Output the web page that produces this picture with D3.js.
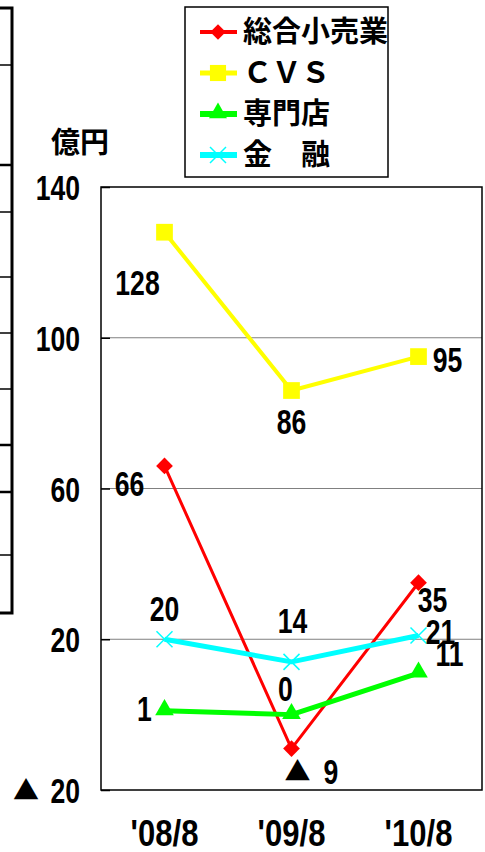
<!DOCTYPE html>
<html>
<head>
<meta charset="utf-8">
<script src="https://cdn.jsdelivr.net/npm/d3@7"></script>
<style>
body { margin: 0; background: #fff; }
svg { display: block; }
</style>
</head>
<body>
<svg width="485" height="852"></svg>
<script>
// data
var months = ["'08/8", "'09/8", "'10/8"];
var seriesNames = ["総合小売業", "ＣＶＳ", "専門店", "金　融"];
var retail = [66, -9, 35];
var cvs = [128, 86, 95];
var specialty = [1, 0, 11];
var finance = [20, 14, 21];
var yTicks = [140, 100, 60, 20, -20];

// label placement (dx, dy from point)
var labelOffsets = [
    [[-35, 17], [20, 23], [14, 17]],
    [[-27, 50], [0, 31], [29, 3]],
    [[-20, -2], [-6, -26], [31, -20]],
    [[0, -31], [1, -41], [22, -4]]
];

var colors = ["#ff0000", "#ffff00", "#00ff00", "#00ffff"];
var widths = [3, 4, 5, 5];
var values = [retail, cvs, specialty, finance];

var svg = d3.select("svg");
var numFont = "'Liberation Sans', Arial, sans-serif";
var jpFont = "'Noto Sans CJK JP', sans-serif";
var sx = 0.76; // narrow digits

var plot = {left: 101, right: 482, top: 187, bottom: 790};

var x = d3.scaleBand().domain(months).range([plot.left, plot.right]).padding(0);
var y = d3.scaleLinear().domain([-20, 140]).range([plot.bottom, plot.top]);
function cx(i) { return x(months[i]) + x.bandwidth() / 2; }

// cut off frame of the neighbouring chart on the left
var deco = svg.append("g");
deco.append("path")
    .attr("d", "M0,8 H12 V613 H0")
    .attr("fill", "none").attr("stroke", "#000").attr("stroke-width", 3);
[65, 165, 212, 277, 333, 389, 445, 492, 555].forEach(function(t) {
    deco.append("line").attr("x1", 0).attr("x2", 11).attr("y1", t).attr("y2", t)
        .attr("stroke", "#000").attr("stroke-width", (t == 165 || t == 445 || t == 492) ? 2.5 : 1.5);
});

// grid
svg.append("g").selectAll("line")
    .data([100, 60, 20])
    .enter().append("line")
    .attr("x1", plot.left).attr("x2", plot.right)
    .attr("y1", function(d) { return y(d); })
    .attr("y2", function(d) { return y(d); })
    .attr("stroke", "#808080").attr("stroke-width", 1);

// y axis
var yAxis = svg.append("g")
    .attr("transform", "translate(" + plot.left + ",0)")
    .call(d3.axisLeft(y).tickValues(yTicks).tickSize(-9).tickPadding(21)
        .tickFormat(function(d) { return d < 0 ? -d : d; }));
yAxis.select(".domain").remove();
yAxis.selectAll(".tick line").attr("stroke", "#000").attr("stroke-width", 1.5);
yAxis.selectAll(".tick text")
    .style("font-family", numFont).style("font-weight", "bold").style("font-size", "35px")
    .attr("fill", "#000").attr("dy", "0.36em")
    .attr("x", -21 / sx)
    .attr("transform", "scale(" + sx + ",1)");
yAxis.selectAll(".tick").filter(function(d) { return d < 0; })
    .append("text")
    .attr("x", -62).attr("dy", "0.36em")
    .attr("text-anchor", "end")
    .style("font-family", jpFont).style("font-size", "26px")
    .attr("fill", "#000")
    .text("▲");

// x axis
var xAxis = svg.append("g")
    .attr("transform", "translate(0," + plot.bottom + ")")
    .call(d3.axisBottom(x).tickSize(0).tickPadding(30));
xAxis.select(".domain").remove();
xAxis.selectAll(".tick text")
    .style("font-family", numFont).style("font-weight", "bold").style("font-size", "37px")
    .attr("fill", "#000")
    .attr("transform", "scale(0.84,1)");

// frame
svg.append("rect")
    .attr("x", plot.left).attr("y", plot.top)
    .attr("width", plot.right - plot.left).attr("height", plot.bottom - plot.top)
    .attr("fill", "none").attr("stroke", "#000").attr("stroke-width", 1.5);

// unit
svg.append("text")
    .attr("x", 51).attr("y", 153)
    .style("font-family", jpFont).style("font-weight", "bold").style("font-size", "29px")
    .text("億円");

function marker(g, k, big) {
    var c = colors[k];
    if (k == 0) {
        g.append("path").attr("d", d3.symbol().type(d3.symbolSquare).size(big ? 140 : 120)())
            .attr("transform", "rotate(45)").attr("fill", c);
    } else if (k == 1) {
        g.append("path").attr("d", d3.symbol().type(d3.symbolSquare).size(big ? 280 : 260)()).attr("fill", c);
    } else if (k == 2) {
        g.append("path").attr("d", d3.symbol().type(d3.symbolTriangle).size(big ? 150 : 140)())
            .attr("transform", "translate(0,-1)").attr("fill", c);
    } else {
        g.append("path").attr("d", "M-8,-8L8,8M-8,8L8,-8")
            .attr("stroke", c).attr("stroke-width", 1.5).attr("fill", "none");
    }
}

// lines
var line = d3.line().x(function(d, i) { return cx(i); }).y(function(d) { return y(d); });
values.forEach(function(vals, k) {
    svg.append("path").datum(vals)
        .attr("d", line)
        .attr("fill", "none").attr("stroke", colors[k]).attr("stroke-width", widths[k])
        .attr("stroke-linejoin", "round");
});
values.forEach(function(vals, k) {
    vals.forEach(function(v, i) {
        var g = svg.append("g").attr("transform", "translate(" + cx(i) + "," + y(v) + ")");
        marker(g, k, true);
    });
});

// data labels
values.forEach(function(vals, k) {
    vals.forEach(function(v, i) {
        var o = labelOffsets[k][i];
        var g = svg.append("g").attr("transform", "translate(" + (cx(i) + o[0]) + "," + (y(v) + o[1]) + ")");
        var t = g.append("text")
            .attr("dy", "0.36em")
            .attr("transform", "scale(" + sx + ",1)")
            .style("font-family", numFont).style("font-weight", "bold").style("font-size", "35px")
            .text(Math.abs(v));
        if (v < 0) {
            t.attr("text-anchor", "start").attr("x", 12 / sx);
            g.append("text")
                .attr("x", -1).attr("dy", "0.36em").attr("text-anchor", "end")
                .style("font-family", jpFont).style("font-size", "26px")
                .text("▲");
        } else {
            t.attr("text-anchor", "middle");
        }
    });
});

// legend
var legend = svg.append("g");
legend.append("rect")
    .attr("x", 185).attr("y", 7).attr("width", 203).attr("height", 170)
    .attr("fill", "#fff").attr("stroke", "#000").attr("stroke-width", 1.5);
var rowY = d3.scalePoint().domain(seriesNames).range([32, 155]);
seriesNames.forEach(function(name, k) {
    var ry = rowY(name);
    legend.append("line").attr("x1", 200).attr("x2", 237).attr("y1", ry).attr("y2", ry)
        .attr("stroke", colors[k]).attr("stroke-width", widths[k] + 1);
    marker(legend.append("g").attr("transform", "translate(218," + ry + ")"), k, false);
    legend.append("text")
        .attr("x", 243).attr("y", ry).attr("dy", "0.36em")
        .style("font-family", jpFont).style("font-weight", "bold").style("font-size", "29px")
        .text(name);
});
</script>
</body>
</html>
